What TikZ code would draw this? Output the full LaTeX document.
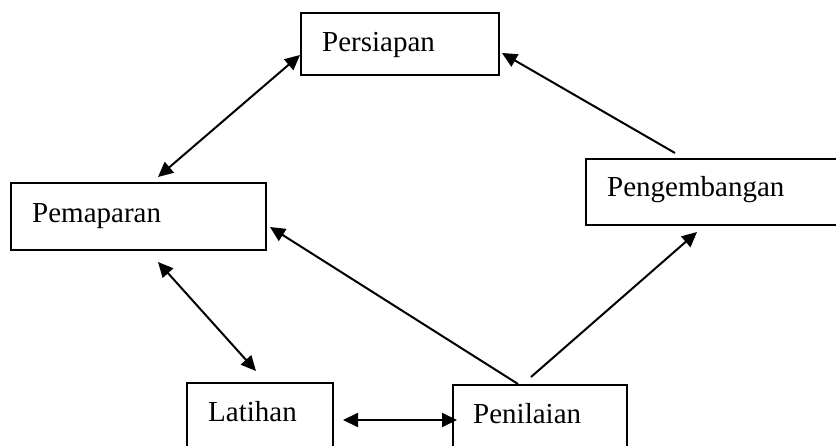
\documentclass[tikz,border=0pt]{standalone}
\usepackage{fontspec}
\setmainfont{Liberation Serif}
\usetikzlibrary{arrows.meta,calc}
\tikzset{
  box/.style={draw=black, line width=1.7pt, rectangle, anchor=north west, inner sep=0pt, outer sep=0pt},
  txt/.style={anchor=base west, inner sep=0pt, font=\fontsize{29}{34}\selectfont},
  conn/.style={draw=black, line width=2pt},
  tip/.style={-{Triangle[length=15pt,width=14pt]}},
  tips/.style={{Triangle[length=15pt,width=14pt]}-{Triangle[length=15pt,width=14pt]}}
}
\begin{document}
\begin{tikzpicture}[x=1pt,y=-1pt]
\useasboundingbox (0,0) rectangle (836,446);
\fill[white] (0,0) rectangle (836,446);
% boxes
\node[box, minimum width=198pt, minimum height=62pt] (pers) at (301,13) {};
\node[box, minimum width=255pt, minimum height=67pt] (pema) at (11,183) {};
\node[box, minimum width=262pt, minimum height=66pt] (peng) at (586,159) {};
\node[box, minimum width=146pt, minimum height=72pt] (lat) at (187,383) {};
\node[box, minimum width=174pt, minimum height=72pt] (pen) at (453,385) {};
% texts
\node[txt] (perst) at ($(pers.north west)+(21,39)$) {Persiapan};
\node[txt] (pemat) at ($(pema.north west)+(21,40)$) {Pemaparan};
\node[txt] (pengt) at ($(peng.north west)+(21,38)$) {Pengembangan};
\node[txt] (latt) at ($(lat.north west)+(21,39)$) {Latihan};
\node[txt] (pent) at ($(pen.north west)+(20,39)$) {Penilaian};
% connector end points
\coordinate (a1) at ($(pers.north west)+(-1,42)$);
\coordinate (a2) at ($(pema.north west)+(147,-6)$);
\coordinate (b1) at ($(peng.north west)+(89,-6)$);
\coordinate (b2) at ($(pers.north east)+(3,40)$);
\coordinate (c1) at ($(pen.north west)+(65,-1)$);
\coordinate (c2) at ($(pema.north east)+(4,44)$);
\coordinate (d1) at ($(pen.north west)+(78,-8)$);
\coordinate (d2) at ($(peng.south west)+(111,7)$);
\coordinate (e1) at ($(pema.south west)+(147,12)$);
\coordinate (e2) at ($(lat.north west)+(69,-12)$);
\coordinate (f1) at ($(lat.north east)+(10,37)$);
\coordinate (f2) at ($(pen.north west)+(4,35)$);
% connectors
\draw[conn, tips] (a1) -- (a2);
\draw[conn, tip] (b1) -- (b2);
\draw[conn, tip] (c1) -- (c2);
\draw[conn, tip] (d1) -- (d2);
\draw[conn, tips] (e1) -- (e2);
\draw[conn, tips] (f1) -- (f2);
\end{tikzpicture}
\end{document}
